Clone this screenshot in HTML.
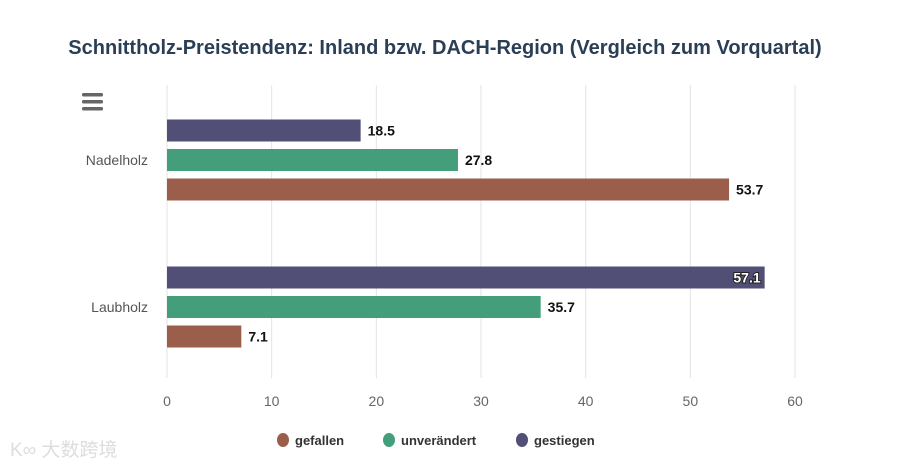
<!DOCTYPE html>
<html><head><meta charset="utf-8"><style>
body{margin:0;background:#fff;}
svg{display:block;font-family:"Liberation Sans","Noto Sans CJK SC",sans-serif;}
</style></head><body>
<svg id="chart" width="919" height="466">
<text x="445" y="54" text-anchor="middle" font-size="20" font-weight="bold" fill="#2a3f55">Schnittholz-Preistendenz: Inland bzw. DACH-Region (Vergleich zum Vorquartal)</text>
<g fill="#666">
<rect x="82" y="93" width="21" height="3.5" rx="1.5"/><rect x="82" y="100" width="21" height="3.5" rx="1.5"/><rect x="82" y="107" width="21" height="3.5" rx="1.5"/>
</g>
<g id="grid"></g><g id="bars"></g><g id="labels"></g><g id="ticks"></g>
<g id="legend" font-size="13" font-weight="bold" fill="#333"></g>
<text x="10" y="456" font-size="19" fill="#ddd">K∞ 大数跨境</text>
</svg>
<script>
const categories=["Nadelholz","Laubholz"];
const seriesNames=["gestiegen","unverändert","gefallen"];
const gestiegen=[18.5,57.1];
const unveraendert=[27.8,35.7];
const gefallen=[53.7,7.1];
const xTicks=[0,10,20,30,40,50,60];
const colors=["#524f77","#459e7b","#9a5e4b"];
const NS="http://www.w3.org/2000/svg";
const plotX0=167,plotX1=795,xMax=60,plotTop=86.5,plotBottom=380.5;
const xs=v=>plotX0+(plotX1-plotX0)*v/xMax;
function mk(tag,attrs,parent){const e=document.createElementNS(NS,tag);for(const k in attrs)e.setAttribute(k,attrs[k]);document.getElementById(parent).appendChild(e);return e;}
xTicks.forEach(t=>{
 const l=mk('line',{x1:xs(t),x2:xs(t),y1:85,y2:378,stroke:'#e3e3e3','stroke-width':1},'grid');
 
 
 const tx=mk('text',{x:xs(t),y:406,'text-anchor':'middle','font-size':14,fill:'#666'},'ticks');
 tx.textContent=t;
 
 
});
const series=[gestiegen,unveraendert,gefallen];
const bandH=(plotBottom-plotTop)/categories.length;
const barH=22,gap=7.5;
categories.forEach((c,i)=>{
 const cy=plotTop+bandH*(i+0.5);
 const cl=mk('text',{x:148,y:cy+5,'text-anchor':'end','font-size':14,fill:'#555'},'ticks');
 cl.textContent=c;
 
 
 series.forEach((s,j)=>{
  const y=cy-barH*1.5-gap+j*(barH+gap);
  const w=xs(s[i])-plotX0;
  const r=mk('rect',{x:plotX0,y:y,width:w,height:barH,fill:colors[j]},'bars');
  
  
  const inside=xs(s[i])+45>plotX1;
  const t=mk('text',{x:inside?xs(s[i])-4:xs(s[i])+7,y:y+16,'text-anchor':inside?'end':'start','font-size':14,'font-weight':'bold',fill:inside?'#fff':'#111'},'labels');
  if(inside){t.setAttribute('stroke','#222');t.setAttribute('stroke-width','2');t.setAttribute('paint-order','stroke');}
  t.textContent=s[i].toFixed(1);
  
  
 });
});
const legendItems=[["gefallen",colors[2],283],["unverändert",colors[1],389],["gestiegen",colors[0],522]];
legendItems.forEach(([n,c,x])=>{
 const g=mk('g',{},'legend');
 
 
 const ci=document.createElementNS(NS,'ellipse');ci.setAttribute('cx',x);ci.setAttribute('cy',440);ci.setAttribute('rx',6);ci.setAttribute('ry',7);ci.setAttribute('fill',c);g.appendChild(ci);
 const t=document.createElementNS(NS,'text');t.setAttribute('x',x+12);t.setAttribute('y',445);t.textContent=n;g.appendChild(t);
});
</script>
</body></html>
